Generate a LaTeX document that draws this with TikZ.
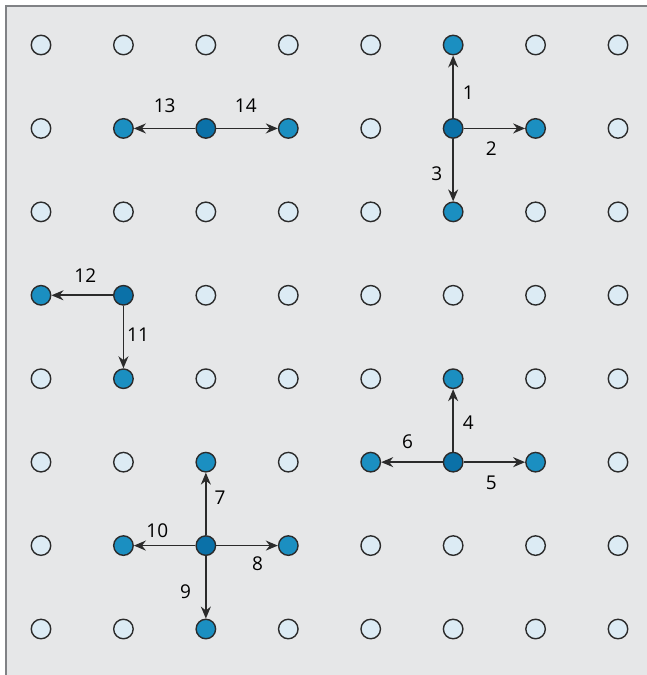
\documentclass[tikz,border=0pt]{standalone}
\usepackage{fontspec}
\setmainfont{Open Sans}
\usetikzlibrary{arrows.meta}
\definecolor{panelgray}{HTML}{E6E7E8}
\definecolor{framegray}{HTML}{808285}
\definecolor{dotlight}{HTML}{DCEBF4}
\definecolor{dotmid}{HTML}{1B8FC1}
\definecolor{dotdark}{HTML}{0B71A8}
\definecolor{inkgray}{HTML}{2B2B2B}
\tikzset{
  dot/.style={circle, draw=inkgray, line width=1.4pt, fill=dotlight,
              minimum size=19.5pt, inner sep=0pt},
  hub/.style={fill=dotdark},
  leaf/.style={fill=dotmid},
  % colours of the cells that take part in a move
  cell 6-2/.style={hub}, cell 6-6/.style={hub}, cell 3-7/.style={hub},
  cell 2-4/.style={hub}, cell 3-2/.style={hub},
  cell 6-1/.style={leaf}, cell 7-2/.style={leaf}, cell 6-3/.style={leaf},
  cell 6-5/.style={leaf}, cell 7-6/.style={leaf}, cell 5-6/.style={leaf},
  cell 3-6/.style={leaf}, cell 4-7/.style={leaf}, cell 3-8/.style={leaf},
  cell 2-7/.style={leaf}, cell 2-5/.style={leaf}, cell 1-4/.style={leaf},
  cell 2-2/.style={leaf}, cell 4-2/.style={leaf},
  move/.style={-{Stealth[length=12pt,width=10pt]}, draw=inkgray, line width=1.6pt},
  lbl/.style={font=\fontsize{19}{22}\selectfont, text=black, inner sep=0pt},
}
\begin{document}
\begin{tikzpicture}[x=1pt, y=-1pt]
  \useasboundingbox (0,0) rectangle (647,675);
  \fill[panelgray] (6,6) rectangle (647,675);
  \draw[framegray, line width=2pt] (6,675) -- (6,6) -- (647,6);
  % grid of cells
  \foreach \c in {1,...,8}{
    \foreach \r in {1,...,8}{
      \node[dot, cell \c-\r/.try] (p-\c-\r)
        at ({41+82.43*(\c-1)}, {45+83.43*(\r-1)}) {};
    }
  }
  % top right group
  \draw[move] (p-6-2) -- node[lbl, right=9pt, pos=0.4] {1} (p-6-1);
  \draw[move] (p-6-2) -- node[lbl, below=13pt, pos=0.45] {2} (p-7-2);
  \draw[move] (p-6-2) -- node[lbl, left=10pt, pos=0.55] {3} (p-6-3);
  % bottom right group
  \draw[move] (p-6-6) -- node[lbl, right=9pt, pos=0.46] {4} (p-6-5);
  \draw[move] (p-6-6) -- node[lbl, below=13pt, pos=0.45] {5} (p-7-6);
  \draw[move] (p-6-6) -- node[lbl, above=13pt, pos=0.57] {6} (p-5-6);
  % bottom left group
  \draw[move] (p-3-7) -- node[lbl, right=8pt, pos=0.6] {7} (p-3-6);
  \draw[move] (p-3-7) -- node[lbl, below=10pt, pos=0.67] {8} (p-4-7);
  \draw[move] (p-3-7) -- node[lbl, left=14pt, pos=0.57] {9} (p-3-8);
  \draw[move] (p-3-7) -- node[lbl, above=7pt, pos=0.62] {10} (p-2-7);
  % middle left group
  \draw[move] (p-2-4) -- node[lbl, right=3pt, pos=0.46] {11} (p-2-5);
  \draw[move] (p-2-4) -- node[lbl, above=12pt, pos=0.45] {12} (p-1-4);
  % top left group
  \draw[move] (p-3-2) -- node[lbl, above=15pt, pos=0.5] {13} (p-2-2);
  \draw[move] (p-3-2) -- node[lbl, above=15pt, pos=0.48] {14} (p-4-2);
\end{tikzpicture}
\end{document}
